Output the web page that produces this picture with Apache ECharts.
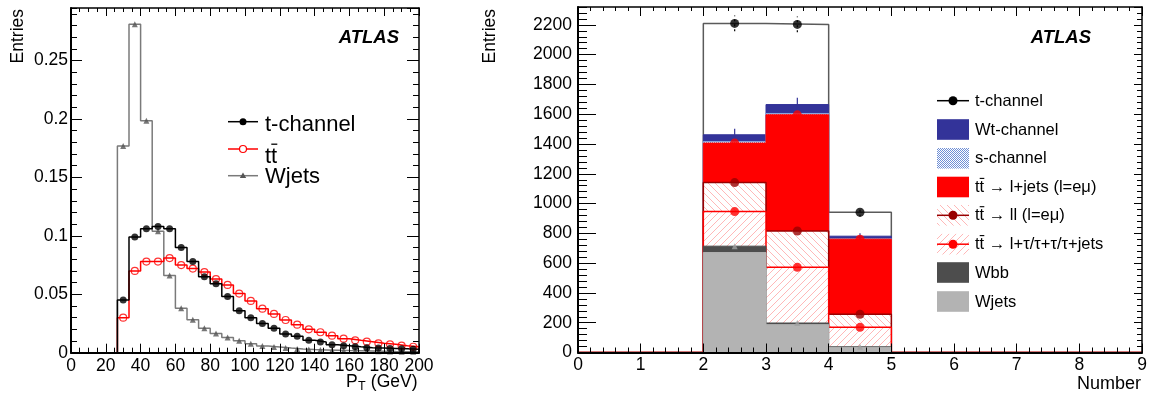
<!DOCTYPE html>
<html><head><meta charset="utf-8">
<script src="https://cdn.jsdelivr.net/npm/echarts@6/dist/echarts.min.js"></script>
<style>html,body{margin:0;padding:0;background:#fff}#c{width:1150px;height:396px}</style>
</head><body><div id="c"></div><script>
// ================= DATA =================
// Left panel: P_T distributions (30 bins, 0-200 GeV)
const ptRange = [0, 200];
const ptBinCount = 30;
const ptTChannel = [0,0,0,0,0.045,0.099,0.106,0.108,0.106,0.090,0.078,0.065,0.059,0.048,
  0.036,0.030,0.025,0.021,0.016,0.014,0.0106,0.0092,0.0069,0.0060,0.0051,0.0043,0.0040,0.0037,0.0034,0.0029];
const ptTTbar = [0,0,0,0,0.030,0.070,0.078,0.078,0.081,0.075,0.072,0.069,0.063,0.058,
  0.0506,0.0443,0.0377,0.0332,0.028,0.024,0.020,0.0175,0.0146,0.012,0.0106,0.0094,0.008,0.0072,0.006,0.0051];
const ptWjets = [0,0,0,0,0.177,0.281,0.1985,0.104,0.066,0.038,0.0283,0.021,0.0165,0.0130,
  0.0103,0.0077,0.0057,0.0049,0.004,0.0032,0.0027,0.0024,0.0021,0.0018,0.0016,0.0014,0.0012,0.0010,0.0009,0.0008];
const leftLegendLabels = ['t-channel', 'tt', 'Wjets'];

// Right panel: "Number" stacked histogram (9 bins, 0-9), bottom -> top
const numRange = [0, 9];
const numBinCount = 9;
const nWjets   = [0,0,671,187,35,0,0,0,0];
const nWbb     = [0,0,43,11,4,0,0,0,0];
const nTTtau   = [0,0,232,374,130,0,0,0,0];
const nTTll    = [0,0,195,244,88,0,0,0,0];
const nTTljets = [0,0,265,780,504,0,0,0,0];
const nSchan   = [0,0,11,9,2,0,0,0,0];
const nWtchan  = [0,0,45,60,18,0,0,0,0];
const nTchan   = [0,0,748,538,161,0,0,0,0];
const nTchanErr  = [0,0,53,53,30,0,0,0,0];
const nWtchanErr = [0,0,40,45,20,0,0,0,0];
const rightLegendLabels = ['t-channel','Wt-channel','s-channel','tt \u2192 l+jets (l=e\u03bc)','tt \u2192 ll (l=e\u03bc)','tt \u2192 l+\u03c4/\u03c4+\u03c4/\u03c4+jets','Wbb','Wjets'];
const axisTitles = {leftY:'Entries', leftX:['P','T',' (GeV)'], rightY:'Entries', rightX:'Number'};
const watermark = 'ATLAS';

// ================= HELPERS =================
const FONT = '"Liberation Sans", Arial, Helvetica, sans-serif';
function edgesOf(r, n){const e=[];for(let i=0;i<=n;i++)e.push(r[0]+(r[1]-r[0])*i/n);return e;}
function stepPoints(edges, vals){const p=[[edges[0],0]];vals.forEach((v,i)=>{p.push([edges[i],v],[edges[i+1],v]);});p.push([edges[edges.length-1],0]);return p;}
function centerPoints(edges, vals){const p=[];vals.forEach((v,i)=>{if(v>0)p.push([(edges[i]+edges[i+1])/2,v]);});return p;}
function cumulative(layers){const out=[];let acc=layers[0].map(()=>0);layers.forEach(l=>{acc=acc.map((a,i)=>a+l[i]);out.push(acc.slice());});return out;}
function hatch(dir, color, size){
  const c=document.createElement('canvas');c.width=c.height=size;const g=c.getContext('2d');
  g.clearRect(0,0,size,size);
  g.strokeStyle=color;g.lineWidth=1;g.beginPath();
  if(dir==='/'){g.moveTo(-1,size+1);g.lineTo(size+1,-1);g.moveTo(-2,2);g.lineTo(2,-2);g.moveTo(size-2,size+2);g.lineTo(size+2,size-2);}
  else {g.moveTo(-1,-1);g.lineTo(size+1,size+1);g.moveTo(-2,size-2);g.lineTo(2,size+2);g.moveTo(size-2,-2);g.lineTo(size+2,2);}
  g.stroke();return c;}
function dots(){const c=document.createElement('canvas');c.width=c.height=2;const g=c.getContext('2d');
  g.fillStyle='#ffffff';g.fillRect(0,0,2,2);g.fillStyle='#6f8fd6';g.fillRect(0,0,1,1);g.fillRect(1,1,1,1);return c;}
const patLL = {image: hatch('\\','#ffb8b8',7), repeat:'repeat'};
const patTau = {image: hatch('/','#ffb8b8',7), repeat:'repeat'};
const patS = {image: dots(), repeat:'repeat'};

const xAxes=[], yAxes=[];
function addAxes(list, dim, grid, r, majI, minI, lens, label){
  const posMain = dim==='x'?'bottom':'left', posOpp = dim==='x'?'top':'right';
  const mk=(pos, interval, len, line, lab)=>({type:'value', gridIndex:grid, min:r[0], max:r[1], interval, position:pos, z:100,
    splitLine:{show:false}, minorTick:{show:false},
    axisLine:{show:line, onZero:false, lineStyle:{color:'#000', width: pos===posMain?2:1.5}},
    axisTick:{show:true, inside:true, length:len, lineStyle:{color:'#000', width:1}},
    axisLabel: lab || {show:false}});
  const idx=list.length;
  list.push(mk(posMain, majI, lens[0], true, label));
  list.push(mk(posMain, minI, lens[1], false));
  list.push(mk(posOpp, majI, lens[2], true));
  list.push(mk(posOpp, minI, lens[3], false));
  return idx;
}
const plain = v => String(v);
const labStyle = (m, extra)=>Object.assign({show:true, fontFamily:FONT, fontSize:17.5, color:'#000', margin:m, formatter:plain}, extra||{});

const LX = addAxes(xAxes,'x',0,ptRange,20,5,[9,5,8,4],labStyle(4));
const LY = addAxes(yAxes,'y',0,[0,0.295],0.05,0.01,[11,6,12,6],labStyle(3,{showMaxLabel:false}));
const RX = addAxes(xAxes,'x',1,numRange,1,0.2,[9,5,9,4],labStyle(4));
const RY = addAxes(yAxes,'y',1,[0,2320],200,40,[18,9,8,5],labStyle(6,{showMaxLabel:false}));

// ================= SERIES =================
const series=[];
const ptEdges = edgesOf(ptRange, ptBinCount);
const lineS=(data,color,z,xi,yi)=>({type:'line',data,xAxisIndex:xi,yAxisIndex:yi,symbol:'none',z,silent:true,
  lineStyle:{color,width:1.5},itemStyle:{color}});
series.push(lineS(stepPoints(ptEdges,ptWjets),'#7a7a7a',3,LX,LY));
series.push(lineS(stepPoints(ptEdges,ptTTbar),'#ff0000',4,LX,LY));
series.push(lineS(stepPoints(ptEdges,ptTChannel),'#000000',5,LX,LY));
series.push({type:'scatter',data:centerPoints(ptEdges,ptWjets),xAxisIndex:LX,yAxisIndex:LY,symbol:'triangle',symbolSize:6,z:6,silent:true,itemStyle:{color:'#555'}});
series.push({type:'scatter',data:centerPoints(ptEdges,ptTTbar),xAxisIndex:LX,yAxisIndex:LY,symbol:'circle',symbolSize:7,z:7,silent:true,itemStyle:{color:'rgba(255,255,255,0)',borderColor:'#ff0000',borderWidth:1.2}});
series.push({type:'scatter',data:centerPoints(ptEdges,ptTChannel),xAxisIndex:LX,yAxisIndex:LY,symbol:'circle',symbolSize:7,z:8,silent:true,itemStyle:{color:'#000'}});

// right stack
const nEdges = edgesOf(numRange, numBinCount);
const cum = cumulative([nWjets,nWbb,nTTtau,nTTll,nTTljets,nSchan,nWtchan,nTchan]);
const [cWj,cWbb,cTau,cLL,cLJ,cS,cWt,cT] = cum;
let zz=10;
function areaS(vals, fill, stroke, lw){
  return {type:'line',data:stepPoints(nEdges,vals),xAxisIndex:RX,yAxisIndex:RY,symbol:'none',z:zz++,silent:true,
    lineStyle:{color:stroke,width:lw,opacity:lw>0?1:0},areaStyle:{color:fill,opacity:1}};
}
series.push(areaS(cT,'#ffffff','#5a5a5a',1.5));
series.push(areaS(cWt,'#333399','#333399',1));
series.push(areaS(cS,patS,'#8aa6e0',1));
series.push(areaS(cLJ,'#ff0000','#ff0000',1));
series.push(areaS(cLL,'#ffffff','#ffffff',0));
series.push(areaS(cLL,patLL,'#990000',1.5));
series.push(areaS(cTau,'#ffffff','#ffffff',0));
series.push(areaS(cTau,patTau,'#ff0000',1.5));
series.push(areaS(cWbb,'#4d4d4d','#4d4d4d',1));
series.push(areaS(cWj,'#b3b3b3','#b3b3b3',1));

function errS(vals, errs, color, dash){
  const d=[];vals.forEach((v,i)=>{if(errs[i]>0&&v>0)d.push([(nEdges[i]+nEdges[i+1])/2,v,errs[i]]);});
  return {type:'custom',data:d,xAxisIndex:RX,yAxisIndex:RY,z:zz++,silent:true,encode:{x:0,y:1},
    renderItem:(p,api)=>{const x=api.value(0),c=api.value(1),e=api.value(2);const a=api.coord([x,c-e]),b=api.coord([x,c+e]);
      return {type:'line',shape:{x1:a[0],y1:a[1],x2:b[0],y2:b[1]},style:{stroke:color,lineWidth:1.2,lineDash:dash}};}};
}
series.push(errS(cWt,nWtchanErr,'#333399',null));
series.push(errS(cT,nTchanErr,'#000',[2,3]));
function markS(vals, symbol, size, color){
  return {type:'scatter',data:centerPoints(nEdges,vals),xAxisIndex:RX,yAxisIndex:RY,symbol,symbolSize:size,z:zz++,silent:true,itemStyle:{color}};
}
series.push(markS(cWbb,'triangle',6,'#a0a0a0'));
series.push(markS(cTau,'circle',9,'#ff0000'));
series.push(markS(cLL,'circle',9,'#990000'));
series.push(markS(cLJ,'circle',9,'#ff0000'));
series.push(markS(cT,'circle',9,'#000000'));

// ================= GRAPHICS (legends, titles) =================
const G=[];
const txt=(x,y,text,size,extra)=>G.push(Object.assign({type:'text',x,y,silent:true,z:200,style:Object.assign({text,fontFamily:FONT,fontSize:size,fill:'#000',align:'left',verticalAlign:'middle'},extra||{})}));
const ln=(x1,y1,x2,y2,color,w)=>G.push({type:'line',silent:true,z:200,shape:{x1,y1,x2,y2},style:{stroke:color,lineWidth:w}});
const circ=(cx,cy,r,fill,stroke)=>G.push({type:'circle',silent:true,z:201,shape:{cx,cy,r},style:{fill,stroke:stroke||null,lineWidth:1.2}});
const box=(x,y,w,h,fill)=>G.push({type:'rect',silent:true,z:200,shape:{x,y,width:w,height:h},style:{fill}});

// axis titles
G.push({type:'text',x:18,y:9,rotation:Math.PI/2,silent:true,style:{text:axisTitles.leftY,fontFamily:FONT,fontSize:17.5,fill:'#000',align:'right',verticalAlign:'middle'}});
G.push({type:'text',x:490,y:9,rotation:Math.PI/2,silent:true,style:{text:axisTitles.rightY,fontFamily:FONT,fontSize:17.5,fill:'#000',align:'right',verticalAlign:'middle'}});
txt(346,382,axisTitles.leftX[0],17.5);
txt(358,387,axisTitles.leftX[1],12.5);
txt(366,382,axisTitles.leftX[2],17.5);
txt(1141,384,axisTitles.rightX,18,{align:'right'});
// ATLAS
txt(399,37.5,watermark,18.5,{align:'right',fontWeight:'bold',fontStyle:'italic'});
txt(1091,37.5,watermark,18.5,{align:'right',fontWeight:'bold',fontStyle:'italic'});

// left legend
ln(228,121.7,258,121.7,'#000',1.5); circ(243,121.7,3.5,'#000');
txt(265,124.5,leftLegendLabels[0],22);
ln(228,149,258,149,'#ff0000',1.5); circ(243,149,3.5,'#fff','#ff0000');
txt(265,157,leftLegendLabels[1],22); ln(271.3,144.2,277.3,144.2,'#000',1.3);
ln(228,175.7,258,175.7,'#7a7a7a',1.5);
G.push({type:'polygon',silent:true,z:201,shape:{points:[[243,172.5],[239.8,178],[246.2,178]]},style:{fill:'#555'}});
txt(265,176.5,leftLegendLabels[2],22);

// right legend
const lx=937, lw=32, tx=975, fs=16.5;
const rows=[100.7,129.5,158.3,187,215.3,244.2,272.5,301.5];
ln(lx,rows[0],lx+lw,rows[0],'#000',1.5); circ(lx+16,rows[0],4.5,'#000');
box(lx,rows[1]-10.3,lw,20.6,'#333399');
box(lx,rows[2]-10.3,lw,20.6,patS);
box(lx,rows[3]-10.3,lw,20.6,'#ff0000');
box(lx,rows[4]-10.3,lw,20.6,patLL); ln(lx,rows[4],lx+lw,rows[4],'#990000',1.5); circ(lx+16,rows[4],4.5,'#990000');
box(lx,rows[5]-10.3,lw,20.6,patTau); ln(lx,rows[5],lx+lw,rows[5],'#ff0000',1.5); circ(lx+16,rows[5],4.5,'#ff0000');
box(lx,rows[6]-10.3,lw,20.6,'#4d4d4d');
box(lx,rows[7]-10.3,lw,20.6,'#b3b3b3');
rightLegendLabels.forEach((t,i)=>{txt(tx,rows[i]+0.5,t,fs); if(t.indexOf('tt ')===0) ln(tx+4.7,rows[i]-8.6,tx+9.3,rows[i]-8.6,'#000',1.1);});

const chart = echarts.init(document.getElementById('c'), null, {renderer:'canvas'});
chart.setOption({
  animation:false,
  backgroundColor:'#ffffff',
  textStyle:{fontFamily:FONT},
  grid:[{left:71,top:8,width:348,height:344.7,outerBoundsMode:'none',containLabel:false},
        {left:578,top:7,width:564,height:345.5,outerBoundsMode:'none',containLabel:false}],
  xAxis:xAxes, yAxis:yAxes, series, graphic:G
});
</script></body></html>
